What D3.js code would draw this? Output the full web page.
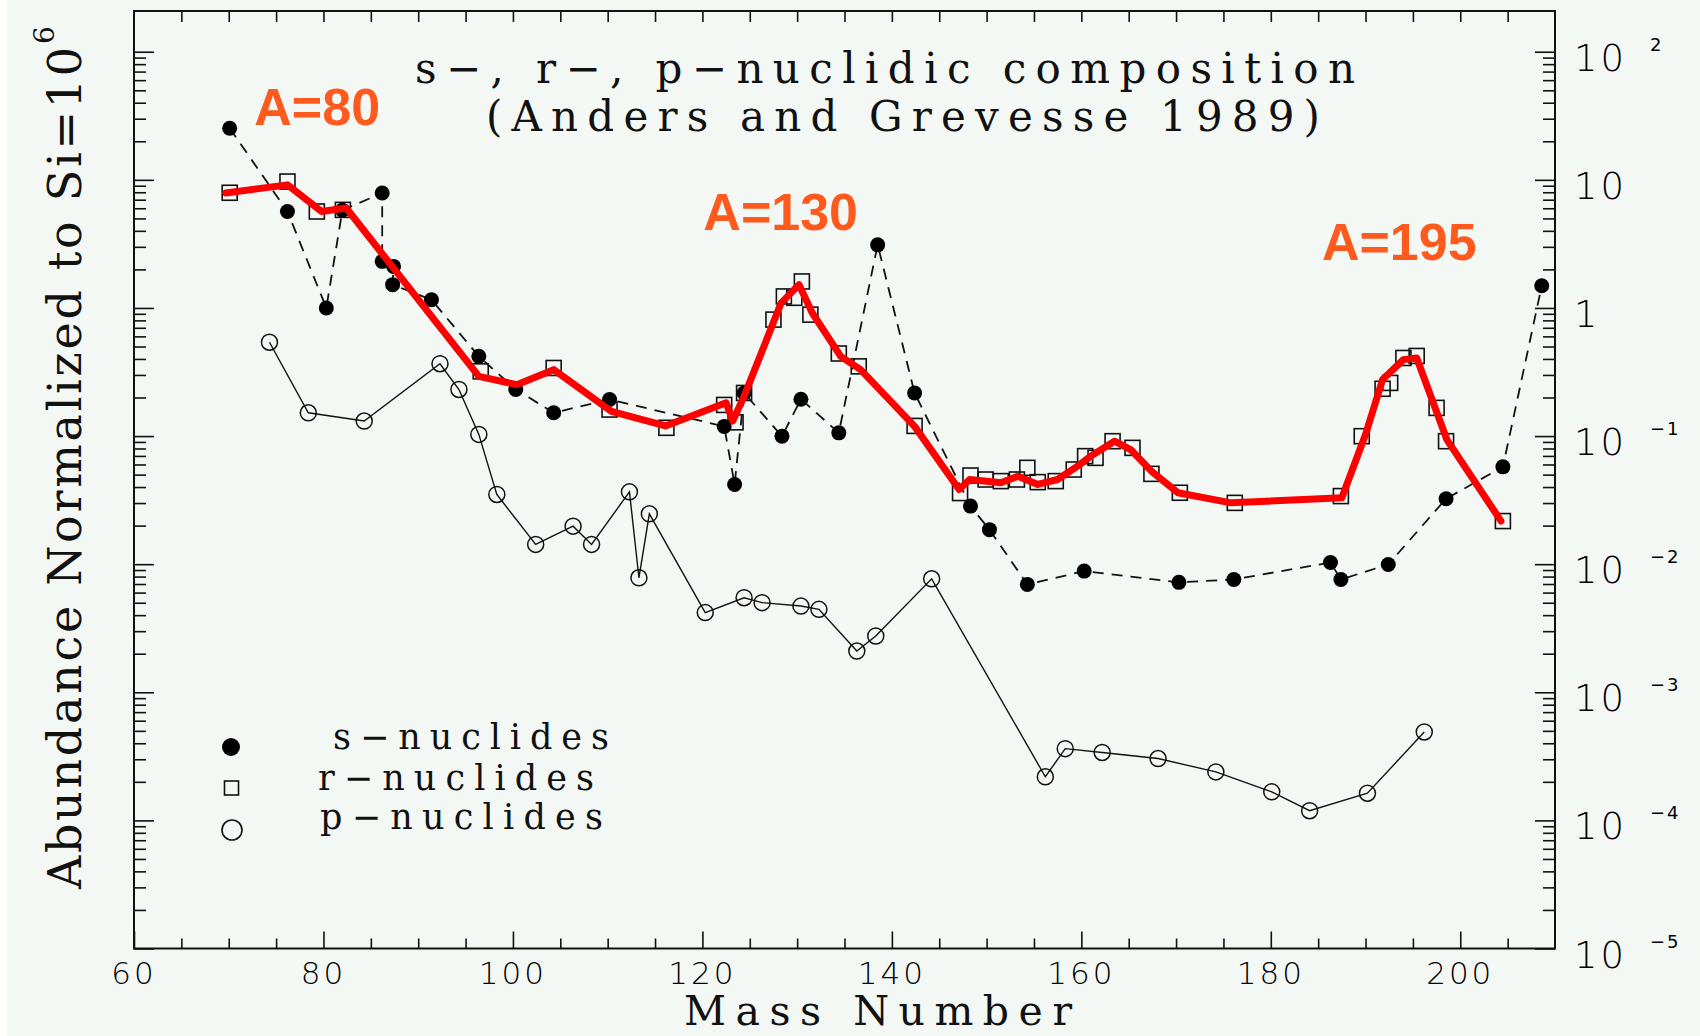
<!DOCTYPE html>
<html><head><meta charset="utf-8">
<script src="https://cdn.jsdelivr.net/npm/d3@7"></script>
<style>html,body{margin:0;padding:0;background:#f4f8f5;} svg{display:block;}</style>
</head><body>
<svg id="chart" width="1700" height="1036"></svg>
<script>
// ---- data ----
const sMass  = [70.1, 76.2, 80.3, 82.0, 86.2, 86.2, 87.4, 87.3, 91.4, 96.4, 100.3, 104.3, 110.2, 122.3, 123.4, 124.4, 128.4, 130.4, 134.4, 138.5, 142.4, 148.3, 150.3, 154.3, 160.3, 170.3, 176.1, 186.3, 187.4, 192.4, 198.5, 204.5, 208.6];
const sAbund = [25.3, 5.66, 1.00, 5.8, 7.89, 2.31, 2.11, 1.52, 1.16, 0.419, 0.231, 0.152, 0.193, 0.119, 0.0419, 0.217, 0.0998, 0.194, 0.106, 3.11, 0.217, 0.0284, 0.0186, 0.00695, 0.00883, 0.00721, 0.0076, 0.0103, 0.0076, 0.00995, 0.0324, 0.0575, 1.49];

const rMass  = [70.1, 76.2, 79.3, 82.05, 96.6, 104.3, 110.2, 116.2, 122.3, 123.5, 124.4, 127.5, 128.6, 129.7, 130.5, 131.4, 134.4, 136.5, 142.4, 147.2, 148.3, 149.9, 151.5, 153.2, 154.3, 155.4, 157.3, 159.2, 160.4, 161.5, 163.3, 165.4, 167.4, 170.4, 176.2, 187.4, 189.6, 191.8, 192.6, 194.0, 195.4, 197.5, 198.5, 204.5];
const rAbund = [7.93, 9.70, 5.66, 5.83, 0.320, 0.340, 0.161, 0.116, 0.175, 0.128, 0.217, 0.811, 1.23, 1.20, 1.61, 0.887, 0.441, 0.350, 0.120, 0.0359, 0.0492, 0.0458, 0.0445, 0.0458, 0.0565, 0.0437, 0.0445, 0.0548, 0.0697, 0.0676, 0.0912, 0.0809, 0.0507, 0.0361, 0.0301, 0.0340, 0.0998, 0.234, 0.260, 0.407, 0.422, 0.166, 0.0912, 0.0217];

const pMass  = [74.3, 78.4, 84.3, 92.3, 94.3, 96.4, 98.3, 102.4, 106.35, 108.3, 112.3, 113.3, 114.4, 120.3, 124.4, 126.3, 130.4, 132.3, 136.3, 138.3, 144.2, 156.2, 158.3, 162.2, 168.1, 174.2, 180.1, 184.1, 190.2, 196.2];
const pAbund = [0.540, 0.152, 0.131, 0.367, 0.231, 0.103, 0.0350, 0.01426, 0.0198, 0.01426, 0.0367, 0.00783, 0.0247, 0.00419, 0.00547, 0.00501, 0.00471, 0.00444, 0.00210, 0.00275, 0.00769, 0.000219, 0.000363, 0.000339, 0.000304, 0.000239, 0.000167, 0.000119, 0.000163, 0.000490];

// hand-drawn red r-process curve
const curveMass  = [69.7, 76.2, 79.8, 82.4, 96.4, 100.4, 104.3, 110.4, 116.1, 122.5, 123.2, 124.4, 128.3, 130.2, 131.6, 134.6, 136.7, 142.4, 147.1, 148.2, 151.5, 153.3, 155.4, 157.5, 159.6, 161.0, 163.5, 165.2, 167.4, 170.2, 175.8, 187.5, 190.0, 191.8, 194.0, 195.4, 198.6, 204.3];
const curveAbund = [7.89, 9.14, 5.66, 6.03, 0.292, 0.252, 0.330, 0.156, 0.120, 0.182, 0.131, 0.204, 1.09, 1.52, 0.914, 0.419, 0.330, 0.119, 0.0383, 0.0458, 0.0432, 0.0486, 0.0419, 0.0458, 0.0582, 0.0697, 0.0912, 0.0785, 0.0532, 0.0361, 0.0301, 0.0330, 0.103, 0.276, 0.395, 0.407, 0.0933, 0.0217];

const xMajorTicks = [60, 80, 100, 120, 140, 160, 180, 200];
const xTickLabels = ["60", "80", "100", "120", "140", "160", "180", "200"];
const yDecades  = [1e2, 1e1, 1e0, 1e-1, 1e-2, 1e-3, 1e-4, 1e-5];
const yTickBase = ["10", "10", "1", "10", "10", "10", "10", "10"];
const yTickExp  = ["2", "", "", "\u22121", "\u22122", "\u22123", "\u22124", "\u22125"];

const peakLabels = ["A=80", "A=130", "A=195"];
const peakMass   = [72.7, 120.1, 185.4];
const peakAbund  = [26.8, 4.06, 2.37];

const legendLabels = ["s\u2212nuclides", "r\u2212nuclides", "p\u2212nuclides"];
const titleLines = ["s\u2212, r\u2212, p\u2212nuclidic composition", "(Anders and Grevesse 1989)"];

// ---- scales ----
const svg = d3.select("#chart");
const x = d3.scaleLinear().domain([60, 210]).range([134, 1555]);
const yTop = Math.pow(10, 2.318);
const y = d3.scaleLog().domain([1e-5, yTop]).range([948.5, 11]);

const X0 = x(60), X1 = x(210), Y0 = y(1e-5), Y1 = y(yTop);

svg.append("rect").attr("x", 0).attr("y", 0).attr("width", 1700).attr("height", 1036).attr("fill", "#f4f8f5");
svg.append("rect").attr("x", 0).attr("y", 0).attr("width", 7).attr("height", 1036).attr("fill", "#ffffff");

// ---- axes / ticks ----
const tickStyle = g => { g.select(".domain").remove(); g.selectAll("line").attr("stroke", "#111").attr("stroke-width", 1.6); g.selectAll("text").remove(); };

const xMinor = d3.range(65, 210, 5).filter(v => v % 20 !== 0);
svg.append("g").attr("transform", `translate(0,${Y0})`).call(d3.axisBottom(x).tickValues(xMajorTicks).tickSize(-17)).call(tickStyle);
svg.append("g").attr("transform", `translate(0,${Y0})`).call(d3.axisBottom(x).tickValues(xMinor).tickSize(-10)).call(tickStyle);
svg.append("g").attr("transform", `translate(0,${Y1})`).call(d3.axisTop(x).tickValues(d3.range(65, 210, 5)).tickSize(-11)).call(tickStyle);

const yMinor = [];
[1e-5, 1e-4, 1e-3, 1e-2, 1e-1, 1, 10].forEach(d => { for (let k = 2; k <= 9; k++) yMinor.push(d * k); });
svg.append("g").attr("transform", `translate(${X0},0)`).call(d3.axisLeft(y).tickValues(yDecades).tickSize(-20)).call(tickStyle);
svg.append("g").attr("transform", `translate(${X0},0)`).call(d3.axisLeft(y).tickValues(yMinor).tickSize(-12)).call(tickStyle);
svg.append("g").attr("transform", `translate(${X1},0)`).call(d3.axisRight(y).tickValues(yDecades).tickSize(-20)).call(tickStyle);
svg.append("g").attr("transform", `translate(${X1},0)`).call(d3.axisRight(y).tickValues(yMinor).tickSize(-12)).call(tickStyle);

svg.append("rect").attr("x", X0).attr("y", Y1).attr("width", X1 - X0).attr("height", Y0 - Y1)
  .attr("fill", "none").attr("stroke", "#111").attr("stroke-width", 2);

// tick labels
const numFont = "'DejaVu Sans', sans-serif";
svg.append("g").selectAll("text").data(xMajorTicks).join("text")
  .attr("x", d => x(d)).attr("y", Y0 + 35)
  .attr("text-anchor", "middle").attr("font-family", numFont).attr("font-weight", 200)
  .attr("font-size", 31).attr("letter-spacing", 3).attr("fill", "#000")
  .text((d, i) => xTickLabels[i]);

const rl = svg.append("g");
rl.selectAll("text.base").data(yDecades).join("text").attr("class", "base")
  .attr("x", 1574).attr("y", d => y(d) + 19)
  .attr("font-family", numFont).attr("font-weight", 200).attr("font-size", 37).attr("letter-spacing", 3).attr("fill", "#000")
  .text((d, i) => yTickBase[i]);
rl.selectAll("text.exp").data(yDecades).join("text").attr("class", "exp")
  .attr("x", 1650).attr("y", d => y(d) - 1)
  .attr("font-family", numFont).attr("font-size", 18).attr("letter-spacing", 2).attr("fill", "#000")
  .text((d, i) => yTickExp[i]);

// ---- series ----
const sData = sMass.map((m, i) => [m, sAbund[i]]);
const rData = rMass.map((m, i) => [m, rAbund[i]]);
const pData = pMass.map((m, i) => [m, pAbund[i]]);
const cData = curveMass.map((m, i) => [m, curveAbund[i]]);
const line = d3.line().x(d => x(d[0])).y(d => y(d[1]));

svg.append("path").attr("d", line(pData)).attr("fill", "none").attr("stroke", "#111").attr("stroke-width", 1.4);
svg.append("g").selectAll("circle").data(pData).join("circle")
  .attr("cx", d => x(d[0])).attr("cy", d => y(d[1])).attr("r", 8)
  .attr("fill", "none").attr("stroke", "#111").attr("stroke-width", 1.5);

svg.append("path").attr("d", line(sData)).attr("fill", "none").attr("stroke", "#111").attr("stroke-width", 1.8).attr("stroke-dasharray", "11,8");

svg.append("g").selectAll("rect").data(rData).join("rect")
  .attr("x", d => x(d[0]) - 7.5).attr("y", d => y(d[1]) - 7.5).attr("width", 15).attr("height", 15)
  .attr("fill", "none").attr("stroke", "#111").attr("stroke-width", 1.6);

svg.append("g").selectAll("circle").data(sData).join("circle")
  .attr("cx", d => x(d[0])).attr("cy", d => y(d[1])).attr("r", 7.5).attr("fill", "#000");

svg.append("path").attr("d", line(cData)).attr("fill", "none").attr("stroke", "#ff0000")
  .attr("stroke-width", 7).attr("stroke-linejoin", "round").attr("stroke-linecap", "round");

// ---- peak labels ----
svg.append("g").selectAll("text").data(peakLabels).join("text")
  .attr("x", (d, i) => x(peakMass[i])).attr("y", (d, i) => y(peakAbund[i]))
  .attr("font-family", "'Liberation Sans', Arial, sans-serif").attr("font-weight", "bold")
  .attr("font-size", 52).attr("fill", "#ff5a1e").text(d => d);

// ---- title ----
const serif = "'DejaVu Serif', 'Liberation Serif', serif";
svg.append("text").attr("x", 415).attr("y", 83).attr("font-family", serif).attr("font-size", 42)
  .attr("textLength", 940).attr("lengthAdjust", "spacing").attr("fill", "#111").text(titleLines[0]);
svg.append("text").attr("x", 486).attr("y", 131).attr("font-family", serif).attr("font-size", 42)
  .attr("textLength", 834).attr("lengthAdjust", "spacing").attr("fill", "#111").text(titleLines[1]);

// ---- axis titles ----
svg.append("text").attr("x", 684).attr("y", 1025).attr("font-family", serif).attr("font-size", 41)
  .attr("textLength", 388).attr("lengthAdjust", "spacing").attr("fill", "#111").text("Mass Number");
svg.append("text").attr("transform", "translate(81,889) rotate(-90)").attr("font-family", serif).attr("font-size", 46)
  .attr("textLength", 842).attr("lengthAdjust", "spacing").attr("fill", "#111").text("Abundance Normalized to Si=10");
svg.append("text").attr("transform", "translate(54,44) rotate(-90)").attr("font-family", serif).attr("font-size", 28)
  .attr("fill", "#111").text("6");

// ---- legend ----
const lg = svg.append("g");
lg.append("circle").attr("cx", 231).attr("cy", 747).attr("r", 9).attr("fill", "#000");
lg.append("rect").attr("x", 224.5).attr("y", 781).attr("width", 14).attr("height", 14).attr("fill", "none").attr("stroke", "#111").attr("stroke-width", 1.6);
lg.append("circle").attr("cx", 232).attr("cy", 830).attr("r", 10).attr("fill", "none").attr("stroke", "#111").attr("stroke-width", 1.6);
const legX = [333, 318, 320], legY = [749, 790, 829], legW = [276, 276, 283];
lg.selectAll("text").data(legendLabels).join("text")
  .attr("x", (d, i) => legX[i]).attr("y", (d, i) => legY[i])
  .attr("font-family", serif).attr("font-size", 35).attr("fill", "#111")
  .attr("textLength", (d, i) => legW[i]).attr("lengthAdjust", "spacing").text(d => d);
</script>
</body></html>
